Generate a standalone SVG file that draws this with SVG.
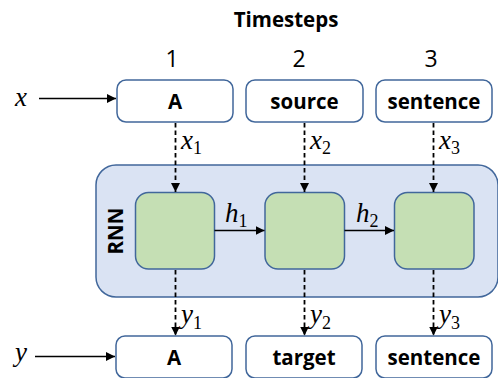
<svg xmlns="http://www.w3.org/2000/svg" width="498" height="378" viewBox="0 0 498 378">
  <defs>
    <style>
      .io { fill: #ffffff; stroke: #41679b; stroke-width: 1.5; }
      .cell { fill: #c5dfb4; stroke: #41679b; stroke-width: 1.5; }
      .rnn { fill: #dae3f3; stroke: #41679b; stroke-width: 1.5; }
      .lbl { font-family: "Open Sans", "Liberation Sans", sans-serif; font-weight: bold; font-size: 20.5px; fill: #000; text-anchor: middle; }
      .num { font-family: "Open Sans", "Liberation Sans", sans-serif; font-size: 23px; fill: #000; text-anchor: middle; }
      .math { font-family: "Liberation Serif", "DejaVu Serif", serif; font-style: italic; font-size: 27px; fill: #000; }
      .sub { font-style: normal; font-size: 18px; }
      .solid { stroke: #000; stroke-width: 1.6; fill: none; }
      .dash { stroke: #000; stroke-width: 1.8; fill: none; stroke-dasharray: 4.5 3; }
    </style>
    <marker id="head" viewBox="0 0 10 10" refX="10" refY="5" markerWidth="9" markerHeight="9" markerUnits="userSpaceOnUse" orient="auto">
      <path d="M0,0 L10,5 L0,10 z" fill="#000"/>
    </marker>
  </defs>

  <!-- heading and step numbers -->
  <text class="lbl" x="286" y="27" font-size="21.5">Timesteps</text>
  <text class="num" x="172" y="67">1</text>
  <text class="num" x="299" y="67">2</text>
  <text class="num" x="431" y="67">3</text>

  <!-- RNN container -->
  <g id="rnn">
    <rect class="rnn" x="96" y="165" width="402" height="132" rx="20"/>
    <text class="lbl" font-size="22" transform="translate(123,231) rotate(-90)">RNN</text>
  </g>

  <!-- input tokens -->
  <g id="in1"><rect class="io" x="117" y="80" width="116" height="42" rx="9"/><text class="lbl" x="175" y="108.5">A</text></g>
  <g id="in2"><rect class="io" x="246" y="80" width="117" height="42" rx="9"/><text class="lbl" x="304.5" y="108.5">source</text></g>
  <g id="in3"><rect class="io" x="376" y="80" width="116" height="42" rx="9"/><text class="lbl" x="434" y="108.5">sentence</text></g>

  <!-- recurrent cells -->
  <g id="cell1"><rect class="cell" x="135.5" y="192.5" width="79" height="76.5" rx="13"/></g>
  <g id="cell2"><rect class="cell" x="265" y="192.5" width="79.5" height="76.5" rx="13"/></g>
  <g id="cell3"><rect class="cell" x="394.5" y="192.5" width="79.5" height="76.5" rx="13"/></g>

  <!-- output tokens -->
  <g id="out1"><rect class="io" x="116" y="336" width="116" height="42" rx="9"/><text class="lbl" x="174" y="364.5">A</text></g>
  <g id="out2"><rect class="io" x="246" y="336" width="116" height="42" rx="9"/><text class="lbl" x="304" y="364.5">target</text></g>
  <g id="out3"><rect class="io" x="376" y="336" width="116" height="42" rx="9"/><text class="lbl" x="434" y="364.5">sentence</text></g>

  <!-- sequence symbols -->
  <text class="math" x="15" y="106">x</text>
  <text class="math" x="15" y="361">y</text>

  <!-- connectors -->
  <g id="edges">
    <line class="solid" x1="39" y1="98.5" x2="116" y2="98.5" marker-end="url(#head)"/>
    <line class="solid" x1="35" y1="356.5" x2="115" y2="356.5" marker-end="url(#head)"/>

    <line class="dash" x1="175.5" y1="123" x2="175.5" y2="192" marker-end="url(#head)"/>
    <line class="dash" x1="304.5" y1="123" x2="304.5" y2="192" marker-end="url(#head)"/>
    <line class="dash" x1="433.5" y1="123" x2="433.5" y2="192" marker-end="url(#head)"/>

    <line class="solid" x1="214.5" y1="230.5" x2="264.5" y2="230.5" marker-end="url(#head)"/>
    <line class="solid" x1="344.5" y1="230.5" x2="394" y2="230.5" marker-end="url(#head)"/>

    <line class="dash" x1="175.5" y1="270" x2="175.5" y2="335.5" marker-end="url(#head)"/>
    <line class="dash" x1="304.5" y1="270" x2="304.5" y2="335.5" marker-end="url(#head)"/>
    <line class="dash" x1="433.5" y1="270" x2="433.5" y2="335.5" marker-end="url(#head)"/>

    <text class="math" x="181" y="149">x<tspan class="sub" dy="5">1</tspan></text>
    <text class="math" x="310" y="149">x<tspan class="sub" dy="5">2</tspan></text>
    <text class="math" x="439" y="149">x<tspan class="sub" dy="5">3</tspan></text>

    <text class="math" x="225" y="222">h<tspan class="sub" dy="5">1</tspan></text>
    <text class="math" x="356" y="222">h<tspan class="sub" dy="5">2</tspan></text>

    <text class="math" x="181" y="323">y<tspan class="sub" dy="6">1</tspan></text>
    <text class="math" x="310" y="323">y<tspan class="sub" dy="6">2</tspan></text>
    <text class="math" x="439" y="323">y<tspan class="sub" dy="6">3</tspan></text>
  </g>
</svg>
